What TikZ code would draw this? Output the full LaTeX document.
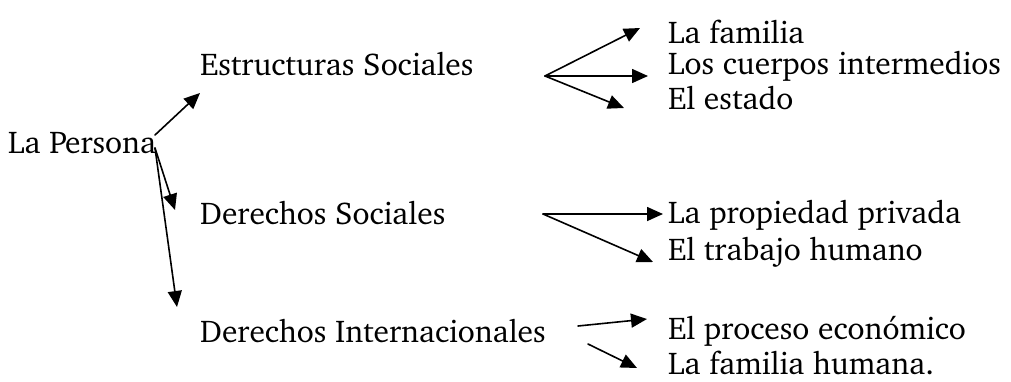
\documentclass[tikz,border=0pt]{standalone}
\usepackage[T1]{fontenc}
\usepackage{charter}
\usetikzlibrary{arrows.meta}
\tikzset{
  txt/.style={anchor=west, inner sep=0pt, font=\fontsize{31.5}{36}\selectfont},
  arr/.style={-{Triangle[length=16pt,width=14pt]}, line width=1.6pt}
}
\begin{document}
\begin{tikzpicture}[x=1pt,y=-1pt,line cap=round,line join=round]
  \useasboundingbox (0,0) rectangle (1011,381);
  % main labels
  \node[txt] (persona) at (8,143) {La Persona};
  \node[txt] (estruct) at (200,64) {Estructuras Sociales};
  \node[txt] (dersoc) at (200,213) {Derechos Sociales};
  \node[txt] (derint) at (200,331) {Derechos Internacionales};
  % right column
  \node[txt] (familia) at (668,32) {La familia};
  \node[txt] (cuerpos) at (668,66) {Los cuerpos intermedios};
  \node[txt] (estado) at (668,98) {El estado};
  \node[txt] (propiedad) at (668,215) {La propiedad privada};
  \node[txt] (trabajo) at (668,252) {El trabajo humano};
  \node[txt] (proceso) at (668,331) {El proceso económico};
  \node[txt] (humana) at (668,363) {La familia humana.};
  % fork points
  \coordinate (p0) at (155,135);
  \coordinate (p1) at (155,148);
  \coordinate (e0) at (545,76);
  \coordinate (d0) at (543,214);
  % arrow tips
  \coordinate (t1) at (200,93);
  \coordinate (t2) at (175,210);
  \coordinate (t3) at (177,307);
  \draw[arr] (p0) -- (t1);
  \draw[arr] (p1) -- (t2);
  \draw[arr] (p1) -- (t3);
  \draw[arr] (e0) -- (640,28);
  \draw[arr] (e0) -- (648,76);
  \draw[arr] (e0) -- (624,108);
  \draw[arr] (d0) -- (663,214);
  \draw[arr] (d0) -- (653,262);
  \draw[arr] (578,326) -- (647,319);
  \draw[arr] (588,344) -- (637,368);
\end{tikzpicture}
\end{document}
